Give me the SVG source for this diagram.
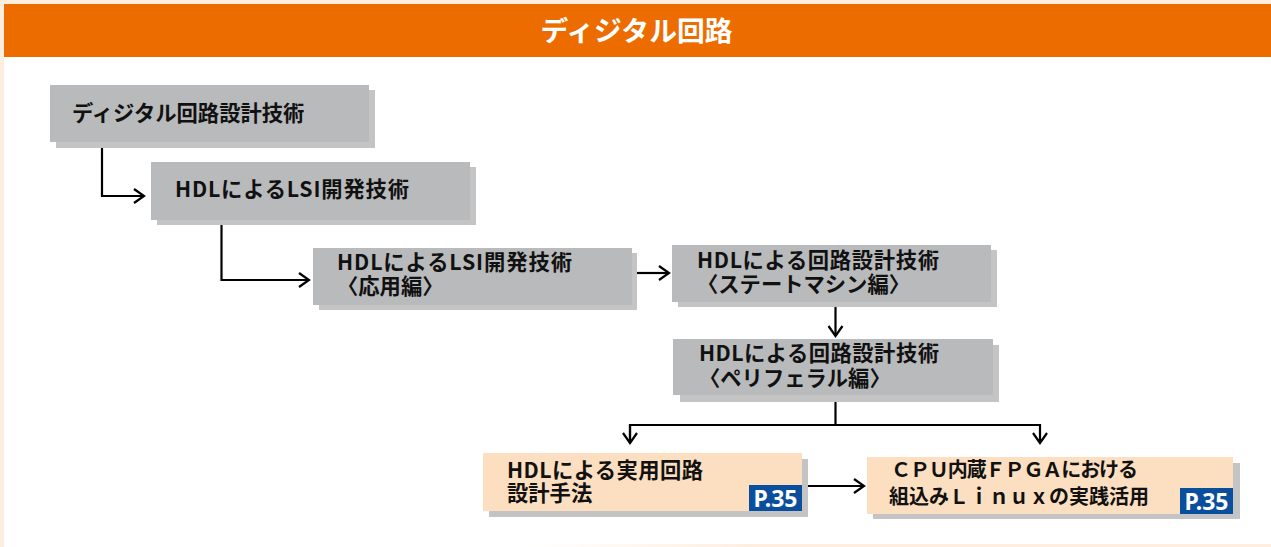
<svg xmlns="http://www.w3.org/2000/svg" width="1271" height="547" viewBox="0 0 1271 547">
<defs>
<style>
.bg{fill:#fdeee0}
.gray{fill:#b9babc}
.shadow{fill:#c4c4c4}
.peach{fill:#fcdfc0}
.badge{fill:#0a4f9e}
.t{font-family:"Noto Sans CJK JP","Noto Sans",sans-serif;font-weight:bold;font-size:21.3px;fill:#111}
.t7{font-size:20px}
.title{font-family:"Noto Sans CJK JP","Noto Sans",sans-serif;font-weight:bold;font-size:27.8px;fill:#fff}
.bt{font-family:"Noto Sans","Noto Sans CJK JP",sans-serif;font-weight:bold;font-size:23px;fill:#fff}
.c{fill:none;stroke:#000;stroke-width:2.2}
</style>
<marker id="arr" markerUnits="userSpaceOnUse" markerWidth="20" markerHeight="20" viewBox="-12 -10 14 20" refX="0" refY="0" orient="auto" overflow="visible">
<path d="M-10,-7 L0,0 L-10,7" fill="none" stroke="#000" stroke-width="2.2"/>
</marker>
<linearGradient id="bot" x1="0" x2="1" y1="0" y2="0">
<stop offset="0" stop-color="#fdeee0" stop-opacity="0"/>
<stop offset="0.3" stop-color="#fdeee0"/>
<stop offset="1" stop-color="#fdeee0"/>
</linearGradient>
</defs>
<rect class="bg" x="0" y="0" width="1271" height="547"/>
<rect x="4" y="4" width="1267" height="543" fill="#fff"/>
<rect x="530" y="544" width="741" height="3" fill="url(#bot)"/>
<g id="header">
<rect x="4" y="4" width="1267" height="53" fill="#ec6c00"/>
<text class="title" x="636.5" y="40.5" text-anchor="middle">ディジタル回路</text>
</g>
<g id="connectors">
<path class="c" d="M102,143 V196 H144" marker-end="url(#arr)"/>
<path class="c" d="M221.5,220 V280 H309" marker-end="url(#arr)"/>
<path class="c" d="M637,273 H669" marker-end="url(#arr)"/>
<path class="c" d="M835.5,307 V336" marker-end="url(#arr)"/>
<path class="c" d="M835.5,402 V425"/>
<path class="c" d="M630,443 V425 H1040 V443" marker-end="url(#arr)"/>
<path class="c" d="M630,425 V443" marker-end="url(#arr)"/>
<path class="c" d="M808,486 H864" marker-end="url(#arr)"/>
</g>
<g id="node1">
<rect class="shadow" x="56" y="90" width="319" height="58"/>
<rect class="gray" x="50" y="85" width="319" height="57"/>
<text class="t" x="72" y="121">ディジタル回路設計技術</text>
</g>
<g id="node2">
<rect class="shadow" x="157" y="167" width="319" height="58"/>
<rect class="gray" x="151" y="162" width="319" height="58"/>
<text class="t" x="175" y="197" textLength="234" lengthAdjust="spacing">HDLによるLSI開発技術</text>
</g>
<g id="node3">
<rect class="shadow" x="319" y="253" width="318" height="57"/>
<rect class="gray" x="313" y="248" width="319" height="57"/>
<text class="t"><tspan x="337" y="270" textLength="235" lengthAdjust="spacing">HDLによるLSI開発技術</tspan><tspan x="337" y="294">〈応用編〉</tspan></text>
</g>
<g id="node4">
<rect class="shadow" x="678" y="250" width="319" height="57"/>
<rect class="gray" x="672" y="245" width="319" height="57"/>
<text class="t"><tspan x="697" y="268" textLength="242" lengthAdjust="spacing">HDLによる回路設計技術</tspan><tspan x="697" y="292">〈ステートマシン編〉</tspan></text>
</g>
<g id="node5">
<rect class="shadow" x="680" y="345" width="319" height="57"/>
<rect class="gray" x="673" y="339" width="320" height="56"/>
<text class="t"><tspan x="699" y="361" textLength="240" lengthAdjust="spacing">HDLによる回路設計技術</tspan><tspan x="699" y="386">〈ペリフェラル編〉</tspan></text>
</g>
<g id="node6">
<rect class="shadow" x="489" y="459" width="319" height="58"/>
<rect class="peach" x="483" y="453" width="319" height="58"/>
<text class="t"><tspan x="507" y="478" textLength="196" lengthAdjust="spacing">HDLによる実用回路</tspan><tspan x="507" y="501">設計手法</tspan></text>
<rect class="badge" x="749" y="485" width="53" height="26"/>
<text class="bt" x="775.5" y="506.5" text-anchor="middle">P.35</text>
</g>
<g id="node7">
<rect class="shadow" x="873" y="463" width="367" height="56"/>
<rect class="peach" x="867" y="457" width="366" height="57"/>
<text class="t t7"><tspan x="891" y="477" textLength="247" lengthAdjust="spacing">ＣＰＵ内蔵ＦＰＧＡにおける</tspan><tspan x="889" y="504">組込みＬｉｎｕｘの実践活用</tspan></text>
<rect class="badge" x="1180" y="488" width="53" height="26"/>
<text class="bt" x="1206.5" y="509.5" text-anchor="middle">P.35</text>
</g>
</svg>
